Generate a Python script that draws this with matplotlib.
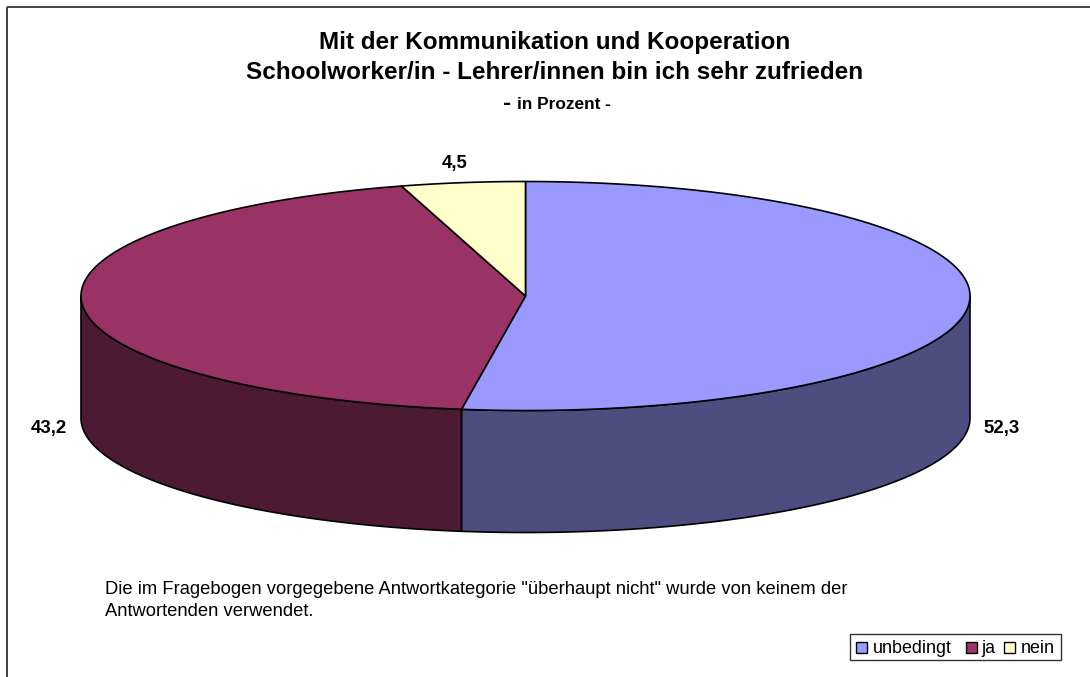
import numpy as np
import matplotlib
matplotlib.use("Agg")
import matplotlib.pyplot as plt
from matplotlib.patches import Polygon, Rectangle

categories = ["unbedingt", "ja", "nein"]
values = [52.3, 43.2, 4.5]
value_labels = ["52,3", "43,2", "4,5"]
top_colors = ["#9999FF", "#993366", "#FFFFCC"]
side_colors = ["#4D4D80", "#4D1A33", "#808066"]

W, H = 1090, 677
plt.rcParams["font.family"] = ["Liberation Sans", "DejaVu Sans"]
fig = plt.figure(figsize=(W / 100, H / 100), dpi=100)
ax = fig.add_axes([0, 0, 1, 1])
ax.set_xlim(0, W)
ax.set_ylim(H, 0)
ax.axis("off")

# chart frame (cropped at right and bottom)
ax.plot([7, 7], [H, 6.5], color="#333333", lw=1.3, solid_capstyle="butt")
ax.plot([7, W], [6.5, 6.5], color="#333333", lw=1.3, solid_capstyle="butt")

cx, cy, rx, ry, depth = 525.5, 296, 444.5, 114.5, 122


def rim(a0, a1, dy=0.0):
    t = np.radians(np.linspace(a0, a1, max(int(abs(a1 - a0) * 3), 2)))
    return np.column_stack([cx + rx * np.sin(t), cy - ry * np.cos(t) + dy])


edges = np.cumsum([0] + values) * 3.6
# visible outer wall: clockwise angles between 90 and 270 degrees
for i in range(len(values)):
    a0, a1 = max(edges[i], 90), min(edges[i + 1], 270)
    if a1 > a0:
        upper = rim(a0, a1)
        lower = rim(a0, a1, depth)[::-1]
        ax.add_patch(Polygon(np.vstack([upper, lower]), closed=True, fc=side_colors[i],
                             ec="black", lw=1.2, joinstyle="round", zorder=2))
# top face
for i in range(len(values)):
    pts = np.vstack([[[cx, cy]], rim(edges[i], edges[i + 1])])
    ax.add_patch(Polygon(pts, closed=True, fc=top_colors[i], ec="black", lw=1.2,
                         joinstyle="round", zorder=3))

ax.text(555, 49, "Mit der Kommunikation und Kooperation", fontsize=17.5, fontweight="bold",
        ha="center", va="baseline")
ax.text(555, 79, "Schoolworker/in - Lehrer/innen bin ich sehr zufrieden", fontsize=17.5,
        fontweight="bold", ha="center", va="baseline")
ax.text(503, 110, "-", fontsize=17.5, fontweight="bold", ha="left", va="baseline")
ax.text(517, 109, "in Prozent -", fontsize=12.4, fontweight="bold", ha="left", va="baseline")

label_pos = [(1002, 433), (49, 433), (455, 168)]
for (x, y), s in zip(label_pos, value_labels):
    ax.text(x, y, s, fontsize=13.4, fontweight="bold", ha="center", va="baseline")

ax.text(105, 594, 'Die im Fragebogen vorgegebene Antwortkategorie "überhaupt nicht" wurde von keinem der',
        fontsize=13.2, ha="left", va="baseline")
ax.text(105, 616, "Antwortenden verwendet.", fontsize=13.2, ha="left", va="baseline")

# legend
ax.add_patch(Rectangle((850, 633.5), 211, 26.5, fc="white", ec="#333333", lw=1))
swatch_x = [856, 966, 1004]
text_x = [873, 981, 1021]
for c, sx, tx, name in zip(top_colors, swatch_x, text_x, categories):
    ax.add_patch(Rectangle((sx, 642), 11, 11, fc=c, ec="black", lw=1))
    ax.text(tx, 653, name, fontsize=12.9, ha="left", va="baseline")

fig.savefig("out.png", dpi=100, facecolor="white")
